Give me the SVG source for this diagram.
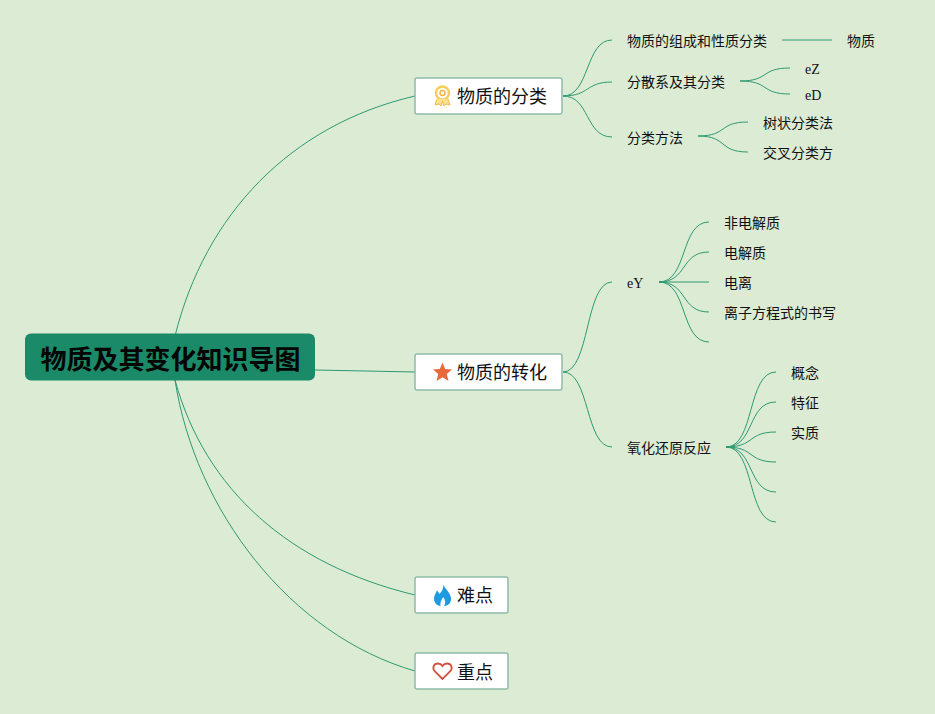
<svg xmlns="http://www.w3.org/2000/svg" width="935" height="714" viewBox="0 0 935 714">
<style>
.l{fill:none;stroke:#2e9a72;stroke-width:1}
.box{fill:#fff;stroke:#8fbcab;stroke-width:1.500}
text{font-family:"Noto Sans CJK SC","Liberation Serif",sans-serif;fill:#111}
.m{font-size:18px}
.s{font-size:14px}
.e{font-family:"Liberation Serif",serif;font-size:14px}
</style>
<rect width="935" height="714" fill="#dcebd3"/>
<g id="connectors">
<path class="l" d="M175 336C205 215 290 125 415 96"/>
<path class="l" d="M315 370L415 372"/>
<path class="l" d="M175 380C205 490 290 565 415 595"/>
<path class="l" d="M175 380C195 510 290 635 415 671"/>
<path class="l" d="M563 96C590 96 585 40 612 40"/>
<path class="l" d="M563 96C590 96 585 82 612 82"/>
<path class="l" d="M563 96C590 96 585 137 612 137"/>
<path class="l" d="M782 40H832"/>
<path class="l" d="M740 81C770 81 760 68 790 68"/>
<path class="l" d="M740 81C770 81 760 94 790 94"/>
<path class="l" d="M698 136C728 136 718 122 748 122"/>
<path class="l" d="M698 136C728 136 718 152 748 152"/>
<path class="l" d="M563 372C590 372 585 282 612 282"/>
<path class="l" d="M563 372C590 372 585 447 612 447"/>
<path class="l" d="M659 282C688 282 680 222 709 222"/>
<path class="l" d="M659 282C688 282 680 252 709 252"/>
<path class="l" d="M659 282H709"/>
<path class="l" d="M659 282C688 282 680 312 709 312"/>
<path class="l" d="M659 282C688 282 680 342 709 342"/>
<path class="l" d="M726 447C755 447 747 372 776 372"/>
<path class="l" d="M726 447C755 447 747 402 776 402"/>
<path class="l" d="M726 447C755 447 747 432 776 432"/>
<path class="l" d="M726 447C755 447 747 462 776 462"/>
<path class="l" d="M726 447C755 447 747 492 776 492"/>
<path class="l" d="M726 447C755 447 747 522 776 522"/>
</g>
<g id="root">
<rect x="25" y="333.500" width="290" height="47" rx="6" fill="#1a8a68"/>
<text x="170.500" y="369" text-anchor="middle" font-size="26" font-weight="700" style="fill:#050505">物质及其变化知识导图</text>
</g>
<g id="n1">
<rect class="box" x="415" y="78" width="147" height="36" rx="2"/>
<circle cx="442.500" cy="93" r="6.500" fill="none" stroke="#f9cd5a" stroke-width="2.500"/>
<circle cx="442.500" cy="93" r="2.500" fill="none" stroke="#f3b545" stroke-width="1.500"/>
<path d="M437 99L435 105L439 104L441 106L442.500 101L444 106L446 104L450 105L448 99" fill="#fde08a" stroke="#f5bb4a" stroke-width="1"/>
<text class="m" x="457" y="103">物质的分类</text>
</g>
<g id="n2">
<rect class="box" x="415" y="354" width="147" height="36" rx="2"/>
<path d="M442.500 362.500L445.200 369L452 369.500L446.800 374L448.500 381L442.500 377.300L436.500 381L438.200 374L433 369.500L439.800 369Z" fill="#e8693a"/>
<text class="m" x="457" y="379">物质的转化</text>
</g>
<g id="n3">
<rect class="box" x="415" y="577" width="93" height="36" rx="2"/>
<path d="M443.500 584.500C444 588 450 592 451 598C451.500 603 448 606 444 606C446 603 445.500 600 443 597C442 600 440 601 440.500 606C436.500 605.500 434 602.500 434 598.500C434 595 436 593 437 590.500C438 591.500 439 593 439.500 594C442 591.500 443.500 588 443.500 584.500Z" fill="#1e9be0"/>
<text class="m" x="457" y="602">难点</text>
</g>
<g id="n4">
<rect class="box" x="415" y="653" width="93" height="36" rx="2"/>
<path d="M442.500 679L435 671.500C431.500 667.500 434 663.500 438 663.500C440 663.500 441.500 664.500 442.500 666C443.500 664.500 445 663.500 447 663.500C451 663.500 453.500 667.500 450 671.500Z" fill="none" stroke="#d2503f" stroke-width="1.800"/>
<text class="m" x="457" y="679">重点</text>
</g>
<g id="t1"><text class="s" x="627" y="46">物质的组成和性质分类</text></g>
<g id="t2"><text class="s" x="847" y="46">物质</text></g>
<g id="t3"><text class="s" x="627" y="87">分散系及其分类</text></g>
<g id="t4"><text class="e" x="805" y="74">eZ</text></g>
<g id="t5"><text class="e" x="805" y="100">eD</text></g>
<g id="t6"><text class="s" x="627" y="143">分类方法</text></g>
<g id="t7"><text class="s" x="763" y="128">树状分类法</text></g>
<g id="t8"><text class="s" x="763" y="158">交叉分类方</text></g>
<g id="t9"><text class="e" x="627" y="288">eY</text></g>
<g id="t10"><text class="s" x="724" y="228">非电解质</text></g>
<g id="t11"><text class="s" x="724" y="258">电解质</text></g>
<g id="t12"><text class="s" x="724" y="288">电离</text></g>
<g id="t13"><text class="s" x="724" y="318">离子方程式的书写</text></g>
<g id="t14"><text class="s" x="627" y="453">氧化还原反应</text></g>
<g id="t15"><text class="s" x="791" y="378">概念</text></g>
<g id="t16"><text class="s" x="791" y="408">特征</text></g>
<g id="t17"><text class="s" x="791" y="438">实质</text></g>
</svg>
